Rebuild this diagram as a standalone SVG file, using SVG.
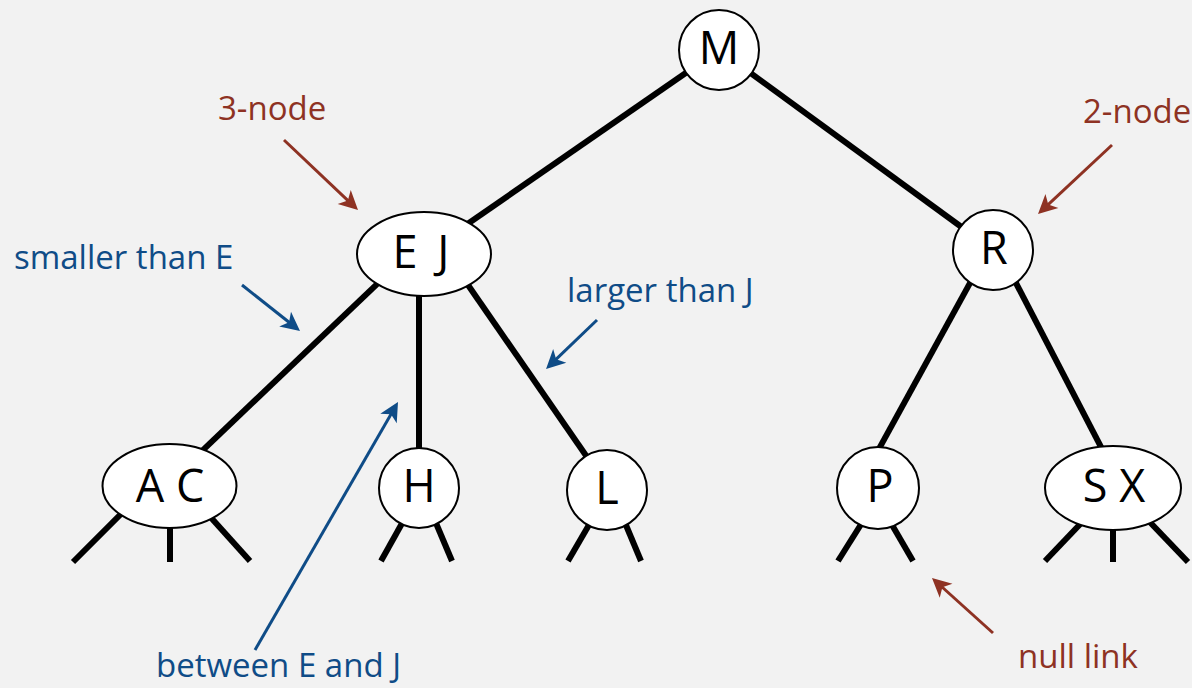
<svg xmlns="http://www.w3.org/2000/svg" width="1192" height="688" viewBox="0 0 1192 688">
<style>
.bg{fill:#f2f2f2}
.edge{stroke:#000;stroke-width:6;fill:none}
.node{fill:#fff;stroke:#000;stroke-width:2}
.key{font-family:"Open Sans","DejaVu Sans",sans-serif;font-size:45px;fill:#000;text-anchor:middle}
.red{font-family:"Open Sans","DejaVu Sans",sans-serif;font-size:33px;fill:#8e3223}
.blue{font-family:"Open Sans","DejaVu Sans",sans-serif;font-size:33px;fill:#0f4c87}
.ar{stroke:#8e3223;stroke-width:3;fill:none;marker-end:url(#hr)}
.ab{stroke:#0f4c87;stroke-width:3;fill:none;marker-end:url(#hb)}
</style>
<defs>
<marker id="hr" markerUnits="userSpaceOnUse" markerWidth="40" markerHeight="40" viewBox="-20 -20 40 40" refX="0" refY="0" orient="auto" overflow="visible">
<path d="M12,0 L-7,-9.5 L-2,0 L-7,9.5 Z" fill="#8e3223"/>
</marker>
<marker id="hb" markerUnits="userSpaceOnUse" markerWidth="40" markerHeight="40" viewBox="-20 -20 40 40" refX="0" refY="0" orient="auto" overflow="visible">
<path d="M12,0 L-7,-9.5 L-2,0 L-7,9.5 Z" fill="#0f4c87"/>
</marker>
</defs>
<rect class="bg" x="0" y="0" width="1192" height="688"/>
<g id="connectors">
<line class="edge" x1="719" y1="50" x2="424" y2="254"/>
<line class="edge" x1="719" y1="50" x2="993" y2="250"/>
<line class="edge" x1="384.6" y1="276.8" x2="196.1" y2="456.6"/>
<line class="edge" x1="419" y1="270" x2="419" y2="470"/>
<line class="edge" x1="458.5" y1="271.2" x2="596.5" y2="470.8"/>
<line class="edge" x1="979" y1="266.6" x2="871" y2="463.4"/>
<line class="edge" x1="1007.5" y1="266.6" x2="1109.5" y2="463.4"/>
<line class="edge" x1="128" y1="507" x2="73" y2="562"/>
<line class="edge" x1="170" y1="520" x2="170" y2="562"/>
<line class="edge" x1="205" y1="511" x2="250" y2="561"/>
<line class="edge" x1="405" y1="518" x2="381" y2="561"/>
<line class="edge" x1="433" y1="516" x2="452" y2="561"/>
<line class="edge" x1="593" y1="518" x2="568" y2="561"/>
<line class="edge" x1="623" y1="518" x2="641" y2="561"/>
<line class="edge" x1="865" y1="518" x2="838" y2="561"/>
<line class="edge" x1="888" y1="518" x2="913" y2="561"/>
<line class="edge" x1="1086" y1="518" x2="1045" y2="561"/>
<line class="edge" x1="1113" y1="520" x2="1113" y2="562"/>
<line class="edge" x1="1144" y1="516" x2="1188" y2="562"/>
</g>
<g id="node-M"><circle class="node" cx="719" cy="50" r="40"/><text class="key" x="719" y="64">M</text></g>
<g id="node-EJ"><ellipse class="node" cx="424" cy="254" rx="67" ry="42"/><text class="key" x="421" y="268" word-spacing="8">E J</text></g>
<g id="node-R"><circle class="node" cx="993" cy="250" r="40"/><text class="key" x="994" y="264">R</text></g>
<g id="node-AC"><ellipse class="node" cx="169.5" cy="486" rx="67" ry="42"/><text class="key" x="170" y="502">A C</text></g>
<g id="node-H"><circle class="node" cx="419" cy="488" r="40"/><text class="key" x="419" y="502">H</text></g>
<g id="node-L"><circle class="node" cx="607" cy="490" r="40"/><text class="key" x="607" y="504">L</text></g>
<g id="node-P"><circle class="node" cx="878" cy="488" r="41"/><text class="key" x="880" y="502">P</text></g>
<g id="node-SX"><ellipse class="node" cx="1113" cy="488" rx="68" ry="42"/><text class="key" x="1114" y="502">S X</text></g>
<g id="annotations">
<text class="red" x="218" y="120">3-node</text>
<line class="ar" x1="284" y1="140" x2="349.3" y2="201.8"/>
<text class="red" x="1083" y="123">2-node</text>
<line class="ar" x1="1112" y1="145" x2="1046.8" y2="205.8"/>
<text class="blue" x="14" y="269">smaller than E</text>
<line class="ab" x1="242" y1="285" x2="290.6" y2="323.5"/>
<text class="blue" x="567" y="302">larger than J</text>
<line class="ab" x1="597" y1="320" x2="554.7" y2="360.7"/>
<text class="blue" x="156" y="677">between E and J</text>
<line class="ab" x1="255" y1="650" x2="392" y2="412.4"/>
<text class="red" x="1018" y="668">null link</text>
<line class="ar" x1="993" y1="633" x2="940.9" y2="586"/>
</g>
</svg>
